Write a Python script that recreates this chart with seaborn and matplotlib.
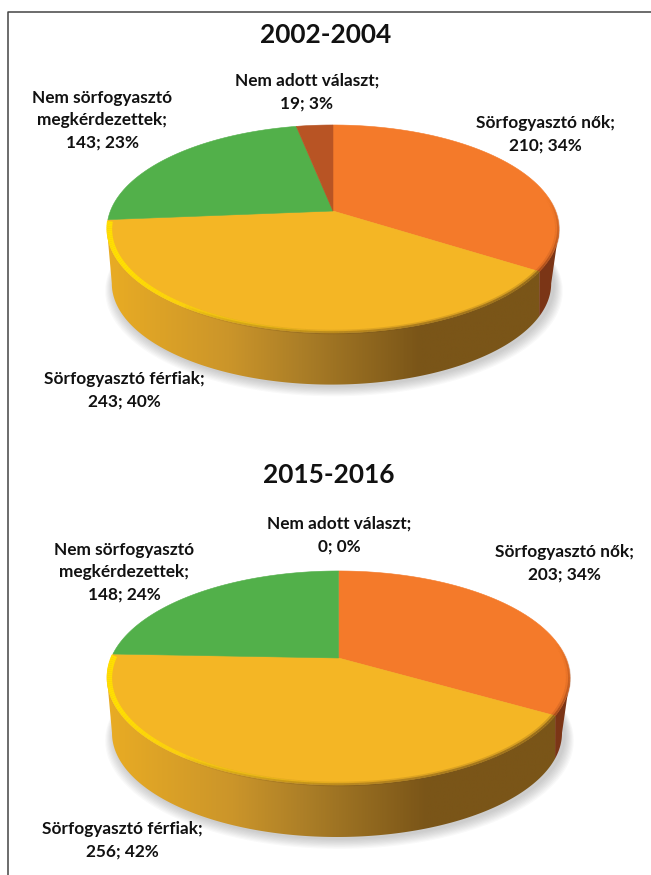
import matplotlib
matplotlib.use("Agg")
import matplotlib.pyplot as plt
import matplotlib.transforms as mtransforms
from matplotlib.collections import LineCollection
from matplotlib.colors import LinearSegmentedColormap, to_rgb
from matplotlib.patches import Circle, Polygon
from matplotlib.path import Path
import numpy as np
import seaborn as sns

categories = ["Sörfogyasztó nők", "Sörfogyasztó férfiak",
              "Nem sörfogyasztó\nmegkérdezettek", "Nem adott választ"]
values_2002 = [210, 243, 143, 19]
percent_2002 = [34, 40, 23, 3]
values_2015 = [203, 256, 148, 0]
percent_2015 = [34, 42, 24, 0]

palette = sns.color_palette(["#F47A2A", "#F4B625", "#52B04A", "#B85424"])

sns.set_theme(style="white")
plt.rcParams["font.family"] = ["Lato", "DejaVu Sans"]

ACCENT_DARK = "#7A5518"
wall_cmap = LinearSegmentedColormap.from_list(
    "wall",
    [(0.0, "#E9AC24"), (0.27, "#CB952A"), (0.43, "#AB7E27"),
     (0.69, ACCENT_DARK), (1.0, ACCENT_DARK)],
)


class Perspective(mtransforms.Transform):
    # unit circle -> pie disc seen from above, in pixel coordinates
    input_dims = 2
    output_dims = 2

    def __init__(self, cx, cy, a, b, k, drop=0.0, scale=1.0):
        super().__init__()
        self.p = (cx, cy, a, b, k, drop, scale)

    def transform_non_affine(self, xy):
        cx, cy, a, b, k, drop, scale = self.p
        xy = np.asarray(xy, dtype=float)
        w = 1 + k * xy[:, 1]
        return np.column_stack([cx + scale * a * xy[:, 0] / w,
                                cy + drop - scale * b * xy[:, 1] / w])

    def transform_path_non_affine(self, path):
        # flatten the curves first, bezier control points do not survive this map
        polys = Path(path.vertices * 1000, path.codes).to_polygons(closed_only=False)
        if not polys:
            return Path(self.transform_non_affine(path.vertices))
        return Path(self.transform_non_affine(np.vstack(polys) / 1000))


def circle_points(deg, r=1.0):
    # deg runs clockwise from the top of the pie
    rad = np.radians(deg)
    return np.column_stack([r * np.sin(rad), r * np.cos(rad)])


def fading_arc(ax, top, deg, widths, color, alphas, r):
    pts = top.transform(circle_points(deg, r))
    segs = np.stack([pts[:-1], pts[1:]], axis=1)
    rgb = to_rgb(color)
    cols = [(*rgb, a) for a in alphas[:-1]]
    ax.add_collection(LineCollection(segs, colors=cols, linewidths=widths[:-1],
                                     capstyle="butt", zorder=6))


def draw_pie(ax, values, cx, cy, a, b, k, drop, scale):
    top = Perspective(cx, cy, a, b, k)
    bottom = Perspective(cx - 1.5, cy, a, b, k, drop=drop, scale=scale)
    stops = np.cumsum([0] + values) / sum(values) * 360

    # soft shadow under the pie
    for i in range(9):
        shadow = Perspective(cx + 1, cy, a, b, k, drop=drop + 2 + i * 0.6,
                             scale=scale + 0.004 + i * 0.0045)
        ax.add_patch(Circle((0, 0), 1, facecolor="#555555", alpha=0.035,
                            edgecolor="none", zorder=1,
                            transform=shadow + ax.transData))

    # side walls: between the two tangent points, seam drops straight down
    tangent_r = np.degrees(np.arccos(-k))
    tangent_l = 360 - tangent_r
    seam = stops[1]
    seam_x = top.transform(circle_points(np.array([seam])))[0, 0]
    fine = np.linspace(tangent_r, 180, 400)
    seam_low = fine[np.argmin(np.abs(bottom.transform(circle_points(fine))[:, 0] - seam_x))]

    top_arc = top.transform(circle_points(np.linspace(tangent_r, seam, 80)))
    low_arc = bottom.transform(circle_points(np.linspace(seam_low, tangent_r, 80)))
    side = np.vstack([top_arc, low_arc])
    ax.fill(side[:, 0], side[:, 1], color="#7B3516", lw=0, zorder=2)

    top_arc = top.transform(circle_points(np.linspace(seam, tangent_l, 160)))
    low_arc = bottom.transform(circle_points(np.linspace(tangent_l, seam_low, 160)))
    side = np.vstack([top_arc, low_arc])
    clip = Polygon(side, closed=True, transform=ax.transData)
    gradient = wall_cmap(np.linspace(0, 1, 400))[None, :, :3]
    img = ax.imshow(gradient, extent=(cx - a * 1.02, cx + a * 1.02, cy + 2 * b, cy - b),
                    aspect="auto", zorder=3, interpolation="bilinear")
    img.set_clip_path(clip)

    wedges, _ = ax.pie(values, colors=palette, startangle=90, counterclock=False,
                       radius=1)
    for w, val in zip(wedges, values):
        w.set_transform(top + ax.transData)
        w.set_edgecolor(w.get_facecolor())
        # an empty slice must not leave a hairline
        w.set_linewidth(0.4 if val > 0 else 0)
        w.set_visible(val > 0)
        w.set_zorder(5)

    # bevel along the front edge
    split = stops[2]
    deg = np.linspace(split - 1, 175, 90)
    t = np.linspace(0, 1, 90)
    fading_arc(ax, top, deg, 4.2 - 2.8 * t, "#FFE000", np.clip(1.4 - 1.4 * t, 0, 1),
               0.99)
    deg = np.linspace(seam, 215, 90)
    t = np.linspace(0, 1, 90)
    for r, lw, al in [(0.998, 2.2, 0.7), (0.99, 2.6, 0.28)]:
        fading_arc(ax, top, deg, np.full(90, lw), ACCENT_DARK, al * (1 - t) ** 0.7, r)
    deg = np.linspace(seam, 82, 50)
    t = np.linspace(0, 1, 50)
    for r, lw, al in [(0.998, 2.0, 0.6), (0.99, 2.4, 0.2)]:
        fading_arc(ax, top, deg, np.full(50, lw), "#8A3B16", al * (1 - t), r)


def pie_labels(ax, values, percents, centers):
    for name, val, pct, (x, y) in zip(categories, values, percents, centers):
        ax.text(x, y, f"{name};\n{val}; {pct}%", ha="center", va="center",
                fontsize=12.4, fontweight="bold", color="#111111",
                linespacing=1.5, zorder=8)


fig = plt.figure(figsize=(6.51, 8.75), dpi=100, facecolor="white")
ax = fig.add_axes([0, 0, 1, 1])

draw_pie(ax, values_2002, 333, 211, 222.6, 100.9, 0.173, 55, 0.972)
draw_pie(ax, values_2015, 338.5, 658, 227.4, 103.3, 0.187, 55.5, 0.972)

ax.text(326, 35, "2002-2004", ha="center", va="center", fontsize=18.9,
        fontweight="bold", color="#111111")
ax.text(329, 475, "2015-2016", ha="center", va="center", fontsize=18.9,
        fontweight="bold", color="#111111")

pie_labels(ax, values_2002, percent_2002,
           [(545, 134), (124, 390), (102, 120), (307, 92)])
pie_labels(ax, values_2015, percent_2015,
           [(564, 563), (122, 840), (124, 572), (339, 535)])

# chart frame, only the left and the top edge are inside the picture
ax.plot([8, 8, 651], [875, 11.5, 11.5], color="#444444", lw=1.1, zorder=9)

ax.set_aspect("auto")
ax.set_xlim(0, 651)
ax.set_ylim(875, 0)
ax.axis("off")

fig.savefig("out.png", dpi=100, facecolor="white")
